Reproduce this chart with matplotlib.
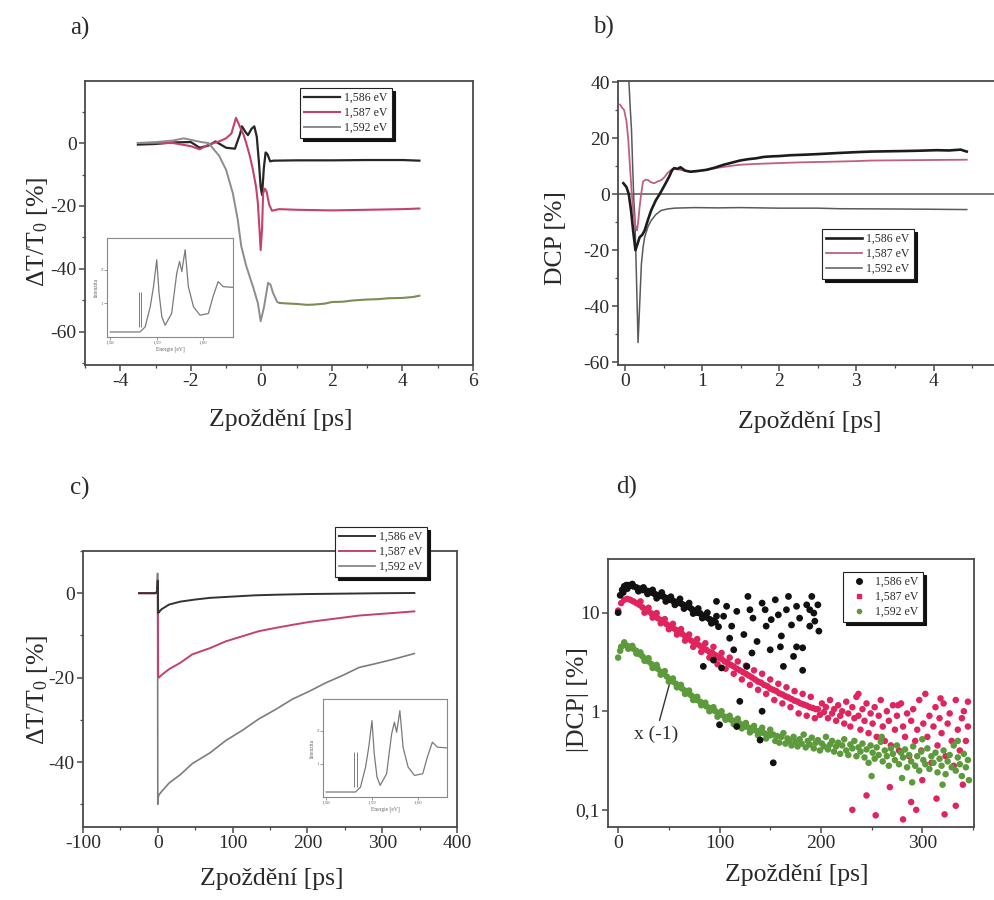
import matplotlib
matplotlib.use('Agg')
import matplotlib.pyplot as plt
from matplotlib.ticker import MultipleLocator, NullLocator
from matplotlib.lines import Line2D

plt.rcParams['font.family'] = ['Liberation Serif', 'DejaVu Serif']
plt.rcParams['mathtext.fontset'] = 'custom'
plt.rcParams['mathtext.rm'] = 'Liberation Serif'
plt.rcParams['mathtext.it'] = 'Liberation Serif:italic'
plt.rcParams['axes.unicode_minus'] = False

# ---------------- data ----------------
labels = ['1,586 eV', '1,587 eV', '1,592 eV']

# panel a: dT/T0 [%] vs delay [ps]
a_t_586 = [-3.5, -3.0, -2.5, -2.0, -1.75, -1.5, -1.3, -1.0, -0.75, -0.6, -0.55, -0.45, -0.38, -0.28, -0.2,
           -0.13, -0.07, -0.02, 0.02, 0.07, 0.12, 0.17, 0.25, 0.35, 1.0, 2.0, 3.0, 4.0, 4.48]
a_v_586 = [-0.5, -0.3, 0.2, 0.3, -1.5, -0.8, 0.5, -1.5, -1.8, 3.0, 5.3, 3.5, 2.5, 4.5, 5.3,
           2.0, -6.0, -14.0, -16.5, -8.0, -3.0, -3.5, -5.8, -5.6, -5.5, -5.5, -5.4, -5.4, -5.6]
a_t_587 = [-3.5, -2.5, -2.0, -1.75, -1.5, -1.2, -1.0, -0.85, -0.72, -0.62, -0.5, -0.43, -0.33, -0.24, -0.15,
           -0.1, -0.05, -0.02, 0.02, 0.05, 0.1, 0.15, 0.22, 0.3, 0.5, 1.0, 2.0, 3.0, 4.0, 4.48]
a_v_587 = [0.0, 0.0, -1.0, -2.0, -0.5, 0.5, 1.5, 3.0, 8.0, 5.5, 2.5, 0.0, -4.0, -8.5, -14.0,
           -19.0, -28.0, -34.0, -27.0, -16.0, -14.5, -15.5, -19.5, -21.5, -21.0, -21.2, -21.4, -21.2, -21.0, -20.8]
a_t_592 = [-3.5, -3.0, -2.5, -2.2, -2.0, -1.7, -1.5, -1.38, -1.2, -1.0, -0.81, -0.67, -0.57, -0.43, -0.3,
           -0.24, -0.1, -0.02, 0.07, 0.19, 0.26, 0.33, 0.45, 0.52]
a_v_592 = [0.0, 0.3, 0.8, 1.5, 1.0, 0.3, 0.0, -1.6, -4.0, -8.5, -15.9, -24.3, -32.8, -39.0, -43.5,
           -45.5, -50.8, -56.6, -52.4, -44.4, -45.0, -47.6, -50.5, -50.8]
a_t_592_late = [0.52, 0.8, 1.0, 1.3, 1.5, 1.8, 2.0, 2.3, 2.6, 3.0, 3.3, 3.6, 4.0, 4.3, 4.48]
a_v_592_late = [-50.8, -51.0, -51.1, -51.4, -51.3, -51.0, -50.5, -50.4, -50.0, -49.7, -49.6, -49.3, -49.2, -48.9, -48.5]

# inset spectrum (energy [eV], intensity [a.u.])
spec_e = [1.5800, 1.5864, 1.5875, 1.5886, 1.5893, 1.5900, 1.5905, 1.5911, 1.5918, 1.5932, 1.5943, 1.5949,
          1.5954, 1.5961, 1.5968, 1.5979, 1.5993, 1.6011, 1.6021, 1.6032, 1.6043, 1.6063]
spec_i = [0.15, 0.15, 0.30, 0.90, 1.50, 2.30, 1.30, 0.60, 0.35, 0.70, 1.90, 2.25,
          1.95, 2.60, 1.50, 0.90, 0.65, 0.70, 1.20, 1.65, 1.50, 1.48]
spec_marks = [1.5861, 1.5867]

# panel b: DCP [%] vs delay [ps]
b_586 = [(-0.02, 3.9), (0.02, 2.5), (0.05, 0), (0.08, -6), (0.106, -13), (0.136, -20), (0.16, -18), (0.19, -15.4),
         (0.225, -14.5), (0.255, -13), (0.3, -9), (0.34, -5.8), (0.37, -4), (0.40, -2.2), (0.45, 0), (0.49, 2),
         (0.53, 4), (0.574, 6.3), (0.61, 8.5), (0.638, 9.3), (0.68, 9.0), (0.72, 9.6), (0.78, 8.4), (0.85, 8.0),
         (0.95, 8.3), (1.06, 8.7), (1.17, 9.5), (1.28, 10.5), (1.38, 11.2), (1.49, 12.0), (1.6, 12.5), (1.7, 12.8),
         (1.8, 13.3), (1.91, 13.5), (2.0, 13.6), (2.15, 13.9), (2.34, 14.1), (2.5, 14.3), (2.77, 14.7), (3.0, 15.0),
         (3.19, 15.2), (3.4, 15.3), (3.62, 15.4), (3.8, 15.5), (4.04, 15.7), (4.2, 15.6), (4.35, 15.9), (4.43, 15.2)]
b_587 = [(-0.064, 32), (-0.04, 31), (-0.01, 30), (0.02, 26), (0.043, 19.5), (0.065, 10), (0.085, 1.4), (0.105, -5),
         (0.128, -10.6), (0.157, -13), (0.175, -9), (0.19, -4.6), (0.21, 0), (0.234, 4.5), (0.27, 5.2), (0.30, 5),
         (0.34, 4.2), (0.38, 3.9), (0.42, 4.5), (0.47, 5), (0.51, 6), (0.55, 7.5), (0.6, 8.7), (0.64, 9.3),
         (0.7, 8.8), (0.78, 8.3), (0.85, 8), (0.95, 8.2), (1.06, 8.7), (1.2, 9.4), (1.35, 10.0), (1.49, 10.5),
         (1.7, 10.8), (1.91, 11.0), (2.1, 11.2), (2.34, 11.4), (2.7, 11.6), (3.0, 11.8), (3.19, 12.0), (3.6, 12.1),
         (4.0, 12.2), (4.43, 12.3)]
b_592 = [(0.03, 45), (0.05, 41), (0.07, 30), (0.085, 23), (0.1, 10), (0.115, -2), (0.128, -8), (0.145, -25),
         (0.17, -53), (0.19, -40), (0.213, -25), (0.235, -19), (0.255, -15.4), (0.3, -11.5), (0.34, -9.4),
         (0.4, -7.3), (0.47, -5.8), (0.55, -5.3), (0.64, -5.0), (0.9, -4.8), (1.2, -4.9), (1.49, -4.8),
         (2.0, -5.0), (2.5, -5.0), (2.77, -5.2), (3.5, -5.3), (4.0, -5.4), (4.43, -5.5)]

# panel c: dT/T0 [%] vs delay [ps], long range
c_t_586 = [-25, -3, -1, 0, 0.5, 1.5, 5, 15, 30, 50, 70, 100, 130, 160, 200, 250, 300, 343]
c_v_586 = [0, 0, 0.3, 3, -4.7, -4.5, -3.8, -2.7, -2.0, -1.5, -1.1, -0.8, -0.5, -0.35, -0.2, -0.1, 0.0, 0.05]
c_t_587 = [-25, -3, -1, 0, 0.5, 1.5, 5, 15, 30, 46, 70, 91, 113, 135, 158, 180, 203, 225, 247, 269, 291, 314, 343]
c_v_587 = [0, 0, 0.3, 2, -19.5, -20, -19.4, -18, -16.5, -14.5, -13, -11.4, -10.2, -9.0, -8.2, -7.5, -6.8,
           -6.3, -5.8, -5.3, -5.0, -4.7, -4.3]
c_t_592 = [-25, -3, -1, -0.3, 0, 0.5, 1.5, 5, 15, 30, 46, 70, 91, 113, 135, 158, 180, 203, 225, 247, 269,
           291, 314, 343]
c_v_592 = [0, 0, 0.5, 4.7, -50, -48.5, -47.8, -47, -45, -43, -40.4, -37.8, -34.9, -32.5, -29.8, -27.5, -25.1,
           -23.2, -21.2, -19.5, -17.6, -16.7, -15.7, -14.3]

# panel d: |DCP| [%] vs delay [ps] (log)
d_586 = [(0, 10), (2, 15), (4, 17), (6, 18.5), (8, 19), (10, 19), (12, 18.8), (15, 18.5), (18, 18), (21, 17.5),
         (24, 17), (27, 16.8), (30, 16.5), (33, 16), (36, 15.5), (39, 15), (42, 14.8), (45, 14.5), (48, 14),
         (51, 13.5), (54, 13.2), (57, 12.8), (60, 12.6), (63, 12.2), (66, 11.8), (69, 11.5), (72, 11), (75, 10.5),
         (78, 10), (81, 9.8), (84, 9.3), (87, 9), (90, 8.6), (93, 8.3), (96, 8),
         (5, 16), (9, 17.5), (14, 19.5), (20, 16.5), (25, 18), (29, 15.5), (34, 17), (38, 14), (43, 16), (47, 13),
         (52, 14.5), (56, 12), (61, 13.8), (65, 11), (70, 12.5), (74, 9.8), (79, 11), (83, 8.8), (88, 10),
         (92, 7.8), (97, 9.2), (99, 7.2),
         (97, 13), (107, 11.6), (112, 7.3), (117, 10.3), (124, 6.0), (128, 14.6), (133, 8.8), (137, 5.1),
         (142, 12.5), (146, 7.3), (150, 4.2), (155, 13.5), (158, 9.5), (161, 5.8), (166, 10.7), (171, 7.5),
         (176, 4.5), (179, 8.8), (186, 12), (189, 7.3), (191, 14.6), (193, 9.9), (194, 8.2),
         (84, 2.85), (94, 3.3), (102, 2.75), (110, 5.5), (120, 1.26), (142, 1.0), (100, 0.73), (117, 0.70),
         (140, 0.51), (153, 0.30), (163, 2.85), (173, 3.6), (182, 4.4), (182, 2.6), (160, 4.5), (132, 3.9),
         (114, 4.2), (127, 2.85), (104, 9.2), (130, 10.7), (145, 10.7), (151, 8.5), (168, 14.6), (176, 11.6),
         (189, 10.7), (197, 12.0), (198, 6.5)]
d_587_t_early = [0, 3, 6, 9, 12, 15, 18, 21, 24, 27, 30, 33, 36, 39, 42, 45, 48, 51, 54, 57, 60, 63, 66, 69,
                 72, 75, 78, 81, 84, 87, 90, 93, 96, 99, 102, 105, 108, 111, 114, 117, 120, 123, 126, 129, 132,
                 135, 138, 141, 144, 147, 150, 153, 156, 159, 162, 165, 168, 171, 174, 177, 180, 183, 186, 189,
                 192, 195]
d_587_v_early = [10.5, 12.5, 13.5, 13.8, 13.5, 13.0, 12.5, 12.0, 11.3, 10.8, 10.3, 9.8, 9.3, 8.8, 8.4, 8.0, 7.6,
                 7.3, 7.0, 6.7, 6.4, 6.1, 5.8, 5.5, 5.2, 5.0, 4.8, 4.6, 4.4, 4.2, 4.0, 3.9, 3.7, 3.5, 3.4, 3.2,
                 3.1, 2.95, 2.85, 2.7, 2.6, 2.5, 2.4, 2.3, 2.2, 2.1, 2.0, 1.95, 1.85, 1.8, 1.7, 1.65, 1.6, 1.52,
                 1.48, 1.42, 1.38, 1.33, 1.28, 1.25, 1.2, 1.17, 1.14, 1.1, 1.08, 1.05]
d_587_noise = [(22, 13.0), (26, 10.0), (30, 11.2), (34, 8.9), (38, 9.9), (42, 7.8), (46, 8.6), (50, 6.8),
               (54, 7.7), (58, 6.0), (62, 6.8), (66, 5.2), (70, 6.0), (74, 4.5), (78, 5.4), (82, 4.0), (86, 4.9),
               (90, 3.5), (94, 4.5), (98, 3.0), (102, 3.9), (106, 2.7), (110, 3.5), (114, 2.4), (118, 3.2),
               (122, 2.1), (126, 2.9), (130, 1.85), (134, 2.6), (138, 1.65), (142, 2.4), (146, 1.5), (150, 2.1),
               (154, 1.3), (158, 1.9), (162, 1.2), (166, 1.75), (170, 1.1), (174, 1.6), (178, 0.95), (182, 1.5),
               (186, 0.9), (190, 1.4), (194, 0.85)]
d_587_late = [(197, 1.05), (199, 0.92), (201, 1.2), (203, 0.98), (205, 1.1), (207, 0.85), (209, 1.3), (211, 0.95),
              (213, 1.05), (215, 0.8), (217, 1.15), (219, 0.9), (221, 1.0), (223, 0.75), (225, 1.25), (227, 0.95),
              (229, 0.7), (231, 1.1), (233, 0.85), (235, 1.4), (237, 0.9), (239, 0.65), (241, 1.05), (243, 0.8),
              (245, 1.2), (247, 0.6), (249, 0.95), (251, 0.75), (253, 1.1), (255, 0.55), (257, 0.9), (259, 1.3),
              (261, 0.7), (263, 0.5), (265, 1.0), (267, 0.8), (269, 0.45), (271, 1.15), (273, 0.65), (275, 0.9),
              (277, 0.4), (279, 1.2), (281, 0.7), (283, 0.55), (285, 0.95), (287, 0.35), (289, 0.8), (291, 1.05),
              (293, 0.5), (295, 0.65), (297, 1.3), (299, 0.4), (301, 0.75), (303, 1.5), (305, 0.55), (307, 0.9),
              (309, 0.3), (311, 0.7), (313, 1.1), (315, 0.45), (317, 0.85), (319, 0.6), (321, 1.2), (323, 0.35),
              (325, 0.75), (327, 0.95), (329, 0.5), (331, 0.28), (333, 1.3), (335, 0.65), (337, 0.4), (339, 0.85),
              (341, 1.0), (343, 0.5), (345, 0.7),
              (231, 0.1), (245, 0.14), (254, 0.088), (268, 0.17), (281, 0.08), (289, 0.12), (294, 0.1), (300, 0.2),
              (314, 0.13), (322, 0.09), (333, 0.11), (340, 0.18), (237, 1.5), (276, 1.15), (318, 1.35), (345, 1.25)]
d_592_t_early = [0, 3, 6, 9, 12, 15, 18, 21, 24, 27, 30, 33, 36, 39, 42, 45, 48, 51, 54, 57, 60, 63, 66, 69,
                 72, 75, 78, 81, 84, 87, 90, 93, 96, 99, 102, 105, 108, 111, 114, 117, 120, 123, 126, 129, 132,
                 135, 138, 141, 144, 147, 150]
d_592_v_early = [3.5, 4.5, 4.7, 4.6, 4.5, 4.3, 4.1, 3.8, 3.6, 3.4, 3.2, 3.0, 2.85, 2.7, 2.5, 2.4, 2.25, 2.1,
                 2.0, 1.9, 1.8, 1.7, 1.62, 1.52, 1.45, 1.38, 1.3, 1.25, 1.2, 1.12, 1.08, 1.03, 1.0, 0.95, 0.92,
                 0.88, 0.86, 0.82, 0.8, 0.77, 0.75, 0.72, 0.70, 0.68, 0.66, 0.64, 0.63, 0.61, 0.6, 0.58, 0.57]
d_592_noise = [(2, 4.1), (6, 5.0), (10, 4.3), (14, 4.6), (18, 3.85), (22, 3.95), (26, 3.25), (30, 3.45), (34, 2.75),
               (38, 2.95), (42, 2.35), (46, 2.55), (50, 2.0), (54, 2.15), (58, 1.75), (62, 1.85), (66, 1.5),
               (70, 1.62), (74, 1.3), (78, 1.4), (82, 1.15), (86, 1.22), (90, 1.0), (94, 1.1), (98, 0.88),
               (102, 1.0), (106, 0.82), (110, 0.9), (114, 0.74), (118, 0.84), (122, 0.67), (126, 0.76), (130, 0.61),
               (134, 0.71), (138, 0.57), (142, 0.68), (146, 0.53), (150, 0.65)]
d_592_late = [(153, .58), (155, .50), (157, .56), (159, .48), (161, .55), (163, .60), (165, .47), (167, .53),
              (169, .50), (171, .45), (173, .55), (175, .49), (177, .44), (179, .52), (181, .47), (183, .58),
              (185, .43), (187, .50), (189, .46), (191, .54), (193, .42), (195, .48), (197, .51), (199, .40),
              (201, .47), (203, .44), (205, .55), (207, .41), (209, .46), (211, .50), (213, .39), (215, .44),
              (217, .48), (219, .37), (221, .45), (223, .52), (225, .40), (227, .36), (229, .46), (231, .42),
              (233, .50), (235, .35), (237, .43), (239, .39), (241, .47), (243, .34), (245, .41), (247, .30),
              (249, .45), (251, .38), (253, .33), (255, .43), (257, .36), (259, .49), (261, .31), (263, .40),
              (265, .35), (267, .28), (269, .42), (271, .37), (273, .32), (275, .45), (277, .29), (279, .38),
              (281, .34), (283, .41), (285, .27), (287, .36), (289, .31), (291, .44), (293, .28), (295, .35),
              (297, .25), (299, .39), (301, .32), (303, .29), (305, .42), (307, .26), (309, .35), (311, .30),
              (313, .38), (315, .24), (317, .33), (319, .28), (321, .40), (323, .23), (325, .31), (327, .36),
              (329, .27), (331, .45), (333, .25), (335, .34), (337, .29), (339, .22), (341, .37), (343, .27),
              (345, .32), (346, .20),
              (250, 0.22), (290, 0.19), (320, 0.18), (260, 0.55), (335, 0.5), (300, 0.52), (280, 0.21)]

# ---------------- styling ----------------
W, H = 995, 900
fig = plt.figure(figsize=(9.95, 9.0), dpi=100)
SP = '#4a4a4a'
TXT = '#2a2a2a'


def rect(l, t, r, b):
    return [l / W, 1 - b / H, (r - l) / W, (b - t) / H]


def style(ax, size=14):
    for s in ax.spines.values():
        s.set_color(SP)
        s.set_linewidth(1.3)
    ax.tick_params(which='both', direction='out', top=False, right=False, colors=SP,
                   labelcolor=TXT, labelsize=size)
    ax.tick_params(which='major', length=4, width=1.1, pad=2)
    ax.tick_params(which='minor', length=2.5, width=0.9)


def labels_at(ax, xl, xpos, yl, ypos, size=18.5):
    ax.set_xlabel(xl, fontsize=size, color=TXT)
    ax.xaxis.set_label_coords(xpos[0] / W, 1 - xpos[1] / H, transform=fig.transFigure)
    ax.xaxis.label.set_va('center')
    ax.set_ylabel(yl, fontsize=size, color=TXT)
    ax.yaxis.set_label_coords(ypos[0] / W, 1 - ypos[1] / H, transform=fig.transFigure)
    ax.yaxis.label.set_va('center')
    ax.yaxis.label.set_ha('center')


def legend_at(ax, handles, x0, y0, **kw):
    leg = ax.legend(handles, labels, loc='upper left', bbox_to_anchor=(x0 / W, 1 - y0 / H),
                    bbox_transform=fig.transFigure, borderaxespad=0, frameon=True, fancybox=False,
                    framealpha=1, edgecolor='#222', fontsize=8.5, handletextpad=0.4, labelspacing=0.25,
                    borderpad=0.35, shadow={'color': '#111', 'alpha': 1}, **kw)
    leg.get_frame().set_linewidth(0.8)
    leg.set_zorder(10)
    for t in leg.get_texts():
        t.set_color(TXT)
    return leg


def inset(r):
    ax = fig.add_axes(r)
    ax.plot(spec_e, spec_i, color='#7a7a7a', lw=0.9)
    ax.vlines(spec_marks, 0.3, 1.35, color='#7a7a7a', lw=0.7)
    ax.set_xlim(1.5793, 1.6064)
    ax.set_ylim(0, 2.95)
    ax.set_xticks([1.58, 1.59, 1.60], ['1,58', '1,59', '1,60'])
    ax.set_yticks([1, 2], ['1', '2'])
    for s in ax.spines.values():
        s.set_color('#888')
        s.set_linewidth(0.8)
    ax.tick_params(direction='out', length=2, width=0.6, pad=1, labelsize=3.5, colors='#888',
                   labelcolor='#666')
    ax.set_xlabel('Energie [eV]', fontsize=4, labelpad=1, color='#666')
    ax.set_ylabel('Intenzita', fontsize=4, labelpad=1, color='#666')
    return ax


C_BLK = '#262626'
C_RED = '#c6416a'
C_GRY = '#8c8c8c'

# ---------------- panel a ----------------
ax = fig.add_axes(rect(85, 81, 473, 365))
style(ax)
la, = ax.plot(a_t_586, a_v_586, color=C_BLK, lw=1.6)
lb, = ax.plot(a_t_587, a_v_587, color=C_RED, lw=1.5)
lc, = ax.plot(a_t_592, a_v_592, color=C_GRY, lw=1.4)
ax.plot(a_t_592_late, a_v_592_late, color='#7b8d55', lw=1.5)
ax.set_xlim(-5, 6)
ax.set_ylim(-70.5, 19.7)
ax.xaxis.set_major_locator(MultipleLocator(2))
ax.xaxis.set_minor_locator(MultipleLocator(1))
ax.yaxis.set_major_locator(MultipleLocator(20))
ax.yaxis.set_minor_locator(MultipleLocator(10))
labels_at(ax, 'Zpoždění [ps]', (281, 420), r'ΔT/T$_\mathrm{0}$ [%]', (38, 232))
legend_at(ax, [la, lb, lc], 300, 88, handlelength=3.0)
inset(rect(107, 238, 233, 337))
fig.text(80 / W, 1 - 28 / H, 'a)', fontsize=18, ha='center', va='center', color=TXT)

# ---------------- panel b ----------------
ax = fig.add_axes(rect(618, 81, 1003, 365))
style(ax)
ax.axhline(0, color='#555', lw=1.1, zorder=1)
bt, bv = zip(*b_586)
la, = ax.plot(bt, bv, color='#1c1c1c', lw=1.9, zorder=4)
bt, bv = zip(*b_587)
lb, = ax.plot(bt, bv, color='#c0607c', lw=1.3, zorder=3)
bt, bv = zip(*b_592)
lc, = ax.plot(bt, bv, color='#5a5a5a', lw=1.1, zorder=2)
ax.set_xlim(-0.09, 4.9)
ax.set_ylim(-61, 40.4)
ax.xaxis.set_major_locator(MultipleLocator(1))
ax.xaxis.set_minor_locator(MultipleLocator(0.5))
ax.yaxis.set_major_locator(MultipleLocator(20))
ax.yaxis.set_minor_locator(MultipleLocator(10))
labels_at(ax, 'Zpoždění [ps]', (810, 422), 'DCP [%]', (556, 238))
legend_at(ax, [la, lb, lc], 822, 229, handlelength=3.0)
fig.text(603 / W, 1 - 27 / H, 'b)', fontsize=18, ha='center', va='center', color=TXT)

# ---------------- panel c ----------------
ax = fig.add_axes(rect(83, 551, 457, 827))
style(ax)
lc, = ax.plot(c_t_592, c_v_592, color='#7d7d7d', lw=1.2)
lb, = ax.plot(c_t_587, c_v_587, color=C_RED, lw=1.4)
la, = ax.plot(c_t_586, c_v_586, color='#333333', lw=1.4)
ax.set_xlim(-100, 400)
ax.set_ylim(-55.4, 10)
ax.xaxis.set_major_locator(MultipleLocator(100))
ax.xaxis.set_minor_locator(MultipleLocator(50))
ax.yaxis.set_major_locator(MultipleLocator(20))
ax.yaxis.set_minor_locator(MultipleLocator(10))
labels_at(ax, 'Zpoždění [ps]', (272, 879), r'ΔT/T$_\mathrm{0}$ [%]', (38, 690))
legend_at(ax, [la, lb, lc], 335, 527, handlelength=3.0)
inset(rect(323, 699, 447, 797))
fig.text(80 / W, 1 - 488 / H, 'c)', fontsize=18, ha='center', va='center', color=TXT)

# ---------------- panel d ----------------
ax = fig.add_axes(rect(608, 559, 974, 827))
style(ax)
ax.set_yscale('log')
r_t = list(d_587_t_early) + [p[0] for p in d_587_noise] + [p[0] for p in d_587_late]
r_v = list(d_587_v_early) + [p[1] for p in d_587_noise] + [p[1] for p in d_587_late]
g_t = list(d_592_t_early) + [p[0] for p in d_592_noise] + [p[0] for p in d_592_late]
g_v = list(d_592_v_early) + [p[1] for p in d_592_noise] + [p[1] for p in d_592_late]
k_t, k_v = zip(*d_586)
ax.scatter(r_t, r_v, s=22, color='#e0245e', edgecolors='none', zorder=3)
ax.scatter(g_t, g_v, s=22, color='#5c9a3c', edgecolors='none', zorder=4)
ax.scatter(k_t, k_v, s=24, color='#111111', edgecolors='none', zorder=5)
ax.set_xlim(-10, 351)
ax.set_ylim(0.067, 35)
ax.set_yticks([0.1, 1, 10], ['0,1', '1', '10'])
ax.yaxis.set_minor_locator(NullLocator())
ax.xaxis.set_major_locator(MultipleLocator(100))
ax.xaxis.set_minor_locator(MultipleLocator(50))
labels_at(ax, 'Zpoždění [ps]', (797, 875), '|DCP| [%]', (578, 700))
hd = [Line2D([], [], ls='none', marker='o', ms=4, color='#111111'),
      Line2D([], [], ls='none', marker='s', ms=3, color='#e0245e'),
      Line2D([], [], ls='none', marker='o', ms=3, color='#5c9a3c')]
legend_at(ax, hd, 843, 572, handlelength=2.0)
ax.annotate('x (-1)', xy=(51, 1.95), xytext=(37, 0.58), fontsize=14, color=TXT, ha='center', va='center',
            arrowprops=dict(arrowstyle='-', color='#333', lw=1.0, shrinkA=2, shrinkB=0))
fig.text(627 / W, 1 - 487 / H, 'd)', fontsize=18, ha='center', va='center', color=TXT)

fig.savefig('out.png', dpi=100)
